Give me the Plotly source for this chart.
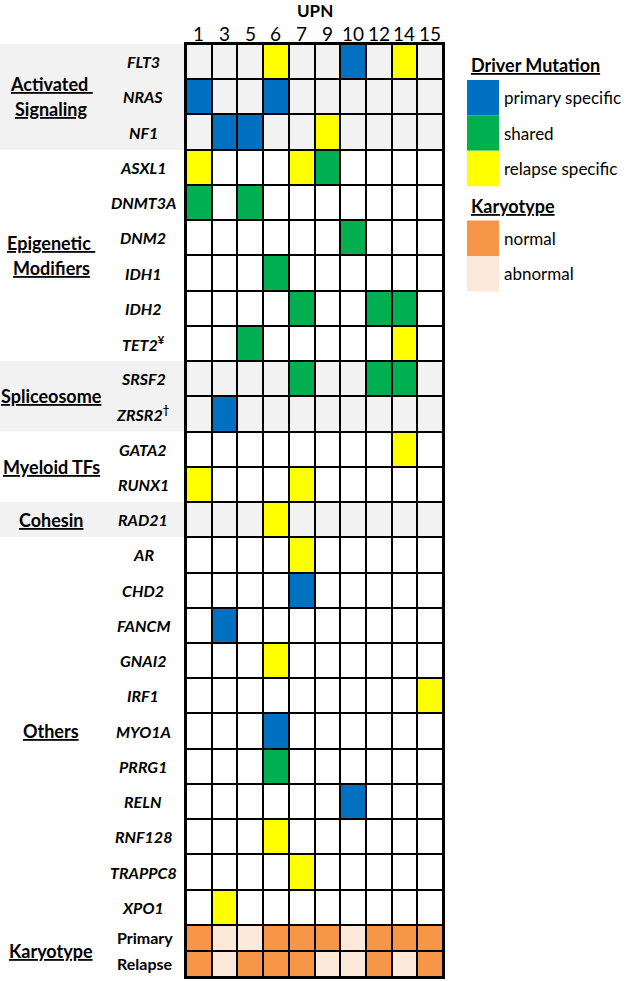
import plotly.graph_objects as go

# ---------------- data ----------------
patients = ["1", "3", "5", "6", "7", "9", "10", "12", "14", "15"]
groups = ["Activated Signaling", "Epigenetic Modifiers", "Spliceosome", "Myeloid TFs", "Cohesin", "Others"]
group_sizes = [3, 6, 2, 2, 1, 11]
group_shaded = [True, False, True, False, True, False]
genes = ["FLT3", "NRAS", "NF1", "ASXL1", "DNMT3A", "DNM2", "IDH1", "IDH2", "TET2",
         "SRSF2", "ZRSR2", "GATA2", "RUNX1", "RAD21", "AR", "CHD2", "FANCM", "GNAI2",
         "IRF1", "MYO1A", "PRRG1", "RELN", "RNF128", "TRAPPC8", "XPO1"]
gene_marks = {"TET2": "¥", "ZRSR2": "†"}

primary_specific = [("FLT3", "10"), ("NRAS", "1"), ("NRAS", "6"), ("NF1", "3"), ("NF1", "5"),
                    ("ZRSR2", "3"), ("CHD2", "7"), ("FANCM", "3"), ("MYO1A", "6"), ("RELN", "10")]
shared = [("ASXL1", "9"), ("DNMT3A", "1"), ("DNMT3A", "5"), ("DNM2", "10"), ("IDH1", "6"),
          ("IDH2", "7"), ("IDH2", "12"), ("IDH2", "14"), ("TET2", "5"), ("SRSF2", "7"),
          ("SRSF2", "12"), ("SRSF2", "14"), ("PRRG1", "6")]
relapse_specific = [("FLT3", "6"), ("FLT3", "14"), ("NF1", "9"), ("ASXL1", "1"), ("ASXL1", "7"),
                    ("TET2", "14"), ("GATA2", "14"), ("RUNX1", "1"), ("RUNX1", "7"), ("RAD21", "6"),
                    ("AR", "7"), ("GNAI2", "6"), ("IRF1", "15"), ("RNF128", "6"), ("TRAPPC8", "7"),
                    ("XPO1", "3")]

karyotype_rows = ["Primary", "Relapse"]
karyotype_primary = ["normal", "abnormal", "abnormal", "normal", "normal", "normal", "abnormal", "normal", "normal", "normal"]
karyotype_relapse = ["normal", "abnormal", "normal", "normal", "normal", "abnormal", "abnormal", "normal", "abnormal", "normal"]

# ---------------- styles ----------------
FONT = "Lato, 'Open Sans', sans-serif"
C_WHITE, C_GRAY = "#FFFFFF", "#F2F2F2"
C_BLUE, C_GREEN, C_YELLOW = "#0070C0", "#00B050", "#FFFF00"
C_NORMAL, C_ABNORMAL = "#F79646", "#FDE9D9"
codes_colors = [C_WHITE, C_GRAY, C_BLUE, C_GREEN, C_YELLOW, C_NORMAL, C_ABNORMAL]
KARYO_ROW_H = 0.74  # relative height of karyotype rows

W, H = 630, 981
ML, MR, MT, MB = 186, 187, 44, 2
PW, PH = W - ML - MR, H - MT - MB


def px_x(px):
    return (px - ML) / PW


def px_y(py):
    return (H - MB - py) / PH


# ---------------- build matrix ----------------
row_shaded = []
for s, sh in zip(group_sizes, group_shaded):
    row_shaded += [sh] * s

z = [[1 if row_shaded[i] else 0 for _ in patients] for i in range(len(genes))]
for code, lst in ((2, primary_specific), (3, shared), (4, relapse_specific)):
    for g, p in lst:
        z[genes.index(g)][patients.index(p)] = code
for kar in (karyotype_primary, karyotype_relapse):
    z.append([5 if k == "normal" else 6 for k in kar])

n_g = len(genes)
y_edges = list(range(n_g + 1)) + [n_g + KARYO_ROW_H * (k + 1) for k in range(len(karyotype_rows))]
y_total = y_edges[-1]

n = len(codes_colors) - 1
colorscale = [[k / n, c] for k, c in enumerate(codes_colors)]

fig = go.Figure(go.Heatmap(
    z=z, x=patients, y=y_edges, zmin=0, zmax=n, colorscale=colorscale,
    showscale=False, xgap=2, ygap=2, hoverinfo="skip"))

# ---------------- shading & labels ----------------
shapes = []
annotations = []
start = 0
for grp, s, sh in zip(groups, group_sizes, group_shaded):
    if sh:
        shapes.append(dict(type="rect", xref="paper", yref="y", x0=px_x(0), x1=0,
                           y0=y_edges[start], y1=y_edges[start + s],
                           fillcolor=C_GRAY, line_width=0, layer="below"))
    center = (y_edges[start] + y_edges[start + s]) / 2
    words = grp.split(" ") if grp in ("Activated Signaling", "Epigenetic Modifiers") else [grp]
    for j, w in enumerate(words):
        shift = (len(words) - 1) / 2 * 25 - j * 25
        txt = w + ("\u00a0" if len(words) > 1 and j == 0 else "")
        annotations.append(dict(xref="paper", yref="y", x=px_x(51), y=center, yshift=shift,
                                text=f"<b><u>{txt}</u></b>", showarrow=False,
                                font=dict(family=FONT, size=18, color="black"),
                                xanchor="center", yanchor="middle"))
    start += s

for i, g in enumerate(genes):
    t = f"<b><i>{g}</i></b>"
    if g in gene_marks:
        t += f"<sup><b>{gene_marks[g]}</b></sup>"
    annotations.append(dict(xref="paper", yref="y", x=px_x(143), y=(y_edges[i] + y_edges[i + 1]) / 2,
                            text=t, showarrow=False, font=dict(family=FONT, size=16, color="black"),
                            xanchor="center", yanchor="middle"))

for k, r in enumerate(karyotype_rows):
    annotations.append(dict(xref="paper", yref="y", x=px_x(145),
                            y=(y_edges[n_g + k] + y_edges[n_g + k + 1]) / 2,
                            text=f"<b>{r}</b>", showarrow=False,
                            font=dict(family=FONT, size=16, color="black"),
                            xanchor="center", yanchor="middle"))
annotations.append(dict(xref="paper", yref="y", x=px_x(51), y=(y_edges[n_g] + y_total) / 2,
                        text="<b><u>Karyotype</u></b>", showarrow=False,
                        font=dict(family=FONT, size=18, color="black"),
                        xanchor="center", yanchor="middle"))

# column (patient) labels above the x axis (category index positions)
for idx, p in enumerate(patients):
    annotations.append(dict(xref="x", yref="paper", x=idx, y=px_y(33), text=p, showarrow=False,
                            font=dict(family=FONT, size=19, color="black"),
                            xanchor="center", yanchor="middle"))

annotations.append(dict(xref="paper", yref="paper", x=0.5, y=px_y(10), text="<b>UPN</b>",
                        showarrow=False, font=dict(family=FONT, size=17, color="black"),
                        xanchor="center", yanchor="middle"))

# ---------------- legend ----------------
legend_sections = [("Driver Mutation", 65, [("primary specific", C_BLUE), ("shared", C_GREEN),
                                            ("relapse specific", C_YELLOW)], 80),
                   ("Karyotype", 206, [("normal", C_NORMAL), ("abnormal", C_ABNORMAL)], 221)]
SW_H = 35.5
for title, ty, items, top in legend_sections:
    annotations.append(dict(xref="paper", yref="paper", x=px_x(469), y=px_y(ty),
                            text=f"<b><u>{title}</u></b>", showarrow=False,
                            font=dict(family=FONT, size=18, color="black"),
                            xanchor="left", yanchor="middle"))
    for j, (lab, col) in enumerate(items):
        y0 = top + j * SW_H
        shapes.append(dict(type="rect", xref="paper", yref="paper", x0=px_x(467), x1=px_x(499),
                           y0=px_y(y0), y1=px_y(y0 + SW_H), fillcolor=col, line_width=0))
        annotations.append(dict(xref="paper", yref="paper", x=px_x(502), y=px_y(y0 + SW_H / 2),
                                text=lab, showarrow=False,
                                font=dict(family=FONT, size=17, color="black"),
                                xanchor="left", yanchor="middle"))

fig.update_layout(
    width=W, height=H, margin=dict(l=ML, r=MR, t=MT, b=MB),
    paper_bgcolor="white", plot_bgcolor="black",
    shapes=shapes, annotations=annotations, showlegend=False,
    xaxis=dict(side="top", type="category", range=[-0.5, len(patients) - 0.5],
               showgrid=False, zeroline=False, ticks="", showticklabels=False,
               showline=True, linewidth=2, linecolor="black", mirror=True, fixedrange=True),
    yaxis=dict(range=[y_total, 0], showgrid=False, zeroline=False, showticklabels=False,
               ticks="", showline=True, linewidth=2, linecolor="black", mirror=True, fixedrange=True),
)

fig.write_html("out.html", config={"displayModeBar": False},
               post_script="document.body.style.margin='0';document.body.style.overflow='hidden';")
